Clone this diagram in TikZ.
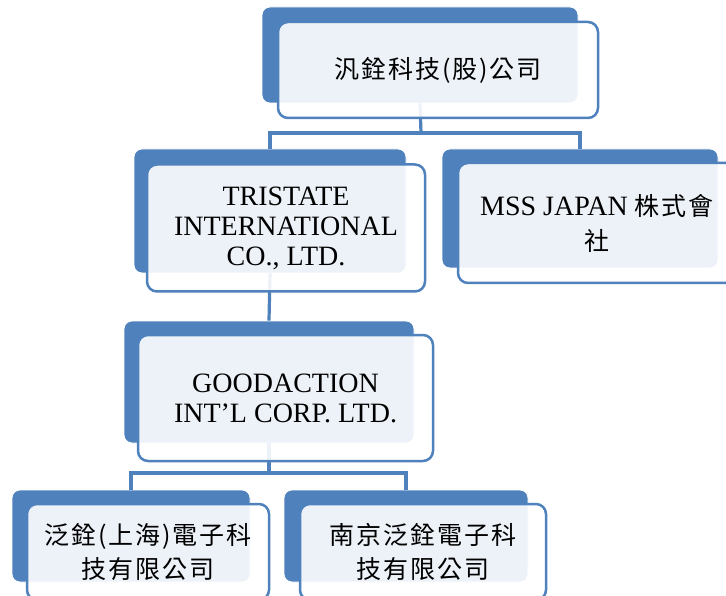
\documentclass[tikz,border=0pt]{standalone}
\usepackage{fontspec}
\setmainfont{Liberation Serif}
\newfontfamily\cjk{Noto Sans CJK TC}[LetterSpace=8]
\usetikzlibrary{positioning}
\definecolor{orgblue}{HTML}{4F81BD}
\tikzset{
    Back/.style = {rectangle, rounded corners=8pt, draw=white, line width=0.8pt, fill=orgblue, inner sep=0pt}
}
\tikzset{
    Front/.style = {rectangle, rounded corners=10pt, draw=orgblue, line width=2.5pt, fill=white, fill opacity=0.9, text opacity=1, align=center, inner sep=0pt}
}
\tikzset{
    Edge/.style = {draw=orgblue, line width=3.2pt}
}
\begin{document}
\begin{tikzpicture}[
    x=1pt, y=-1pt,
    latin/.style = {font=\fontsize{28}{30}\selectfont},
    han/.style = {font=\cjk\fontsize{25}{34}\selectfont}
]
\useasboundingbox (0,0) rectangle (726,596);
% back boxes
\node[Back, minimum width=316pt, minimum height=96pt] at (420,55) (hqb) {};
\node[Back, minimum width=272pt, minimum height=124pt] at (270,211) (trib) {};
\node[Back, minimum width=276pt, minimum height=119pt] at (580,208.5) (mssb) {};
\node[Back, minimum width=290pt, minimum height=122pt] at (269,382) (goodb) {};
\node[Back, minimum width=238pt, minimum height=92pt] at (131,536) (shb) {};
\node[Back, minimum width=244pt, minimum height=92pt] at (406,536) (njb) {};
% connectors
\coordinate (j1) at (421,133);
\coordinate (j2) at (269,473);
\path[Edge] (hqb.south) -- (j1);
\path[Edge] (j1) -| (trib.north);
\path[Edge] (j1) -| (mssb.north);
\path[Edge] (trib.south) -- (goodb.north);
\path[Edge] (goodb.south) -- (j2);
\path[Edge] (j2) -| (shb.north);
\path[Edge] (j2) -| (njb.north);
% front boxes
\node[Front, han, minimum width=320pt, minimum height=96pt] at (438,70) (hq) {汎銓科技(股)公司};
\node[Front, latin, minimum width=278pt, minimum height=127pt] at (286,228) (tri) {TRISTATE\\INTERNATIONAL\\CO., LTD.};
\node[Front, font=\fontsize{28}{35}\selectfont, minimum width=278pt, minimum height=120pt] at (597,223) (mss) {MSS JAPAN {\cjk\fontsize{25}{35}\selectfont 株式會}\\{\cjk\fontsize{25}{35}\selectfont 社}};
\node[Front, latin, minimum width=295pt, minimum height=126pt] at (285.5,398) (good) {GOODACTION\\INT’L CORP. LTD.};
\node[Front, han, minimum width=242pt, minimum height=96pt] at (148,552) (sh) {泛銓(上海)電子科\\技有限公司};
\node[Front, han, minimum width=246pt, minimum height=96pt] at (423,552) (nj) {南京泛銓電子科\\技有限公司};
\end{tikzpicture}
\end{document}
